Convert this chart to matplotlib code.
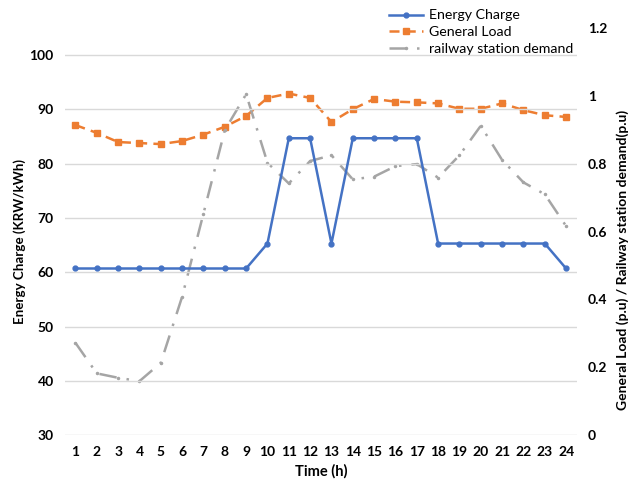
import matplotlib
matplotlib.use("Agg")
import matplotlib.pyplot as plt

hours = list(range(1, 25))
energy_charge = [60.7, 60.7, 60.7, 60.7, 60.7, 60.7, 60.7, 60.7, 60.7, 65.3,
                 84.7, 84.7, 65.3, 84.7, 84.7, 84.7, 84.7, 65.3, 65.3, 65.3,
                 65.3, 65.3, 65.3, 60.7]
general_load = [0.914, 0.891, 0.864, 0.861, 0.858, 0.867, 0.886, 0.909, 0.941, 0.994,
                1.007, 0.994, 0.923, 0.961, 0.991, 0.983, 0.981, 0.978, 0.962, 0.962,
                0.978, 0.958, 0.943, 0.938]
railway_demand = [0.272, 0.182, 0.169, 0.159, 0.213, 0.408, 0.653, 0.899, 1.005, 0.803,
                  0.742, 0.808, 0.825, 0.754, 0.762, 0.793, 0.799, 0.759, 0.825, 0.912,
                  0.811, 0.745, 0.710, 0.616]
left_ticks = [30, 40, 50, 60, 70, 80, 90, 100]
right_ticks = [0, 0.2, 0.4, 0.6, 0.8, 1.0, 1.2]
right_tick_labels = ["0", "0.2", "0.4", "0.6", "0.8", "1", "1.2"]

plt.rcParams['font.family'] = ['Lato', 'DejaVu Sans']

blue = "#4472C4"
orange = "#ED7D31"
gray = "#A5A5A5"

fig = plt.figure(figsize=(6.29, 4.84), dpi=100)
ax = fig.add_axes([0.103, 0.101, 0.814, 0.841])
ax2 = ax.twinx()

ax.set_zorder(ax2.get_zorder() + 1)
ax.patch.set_visible(False)

l1, = ax.plot(hours, energy_charge, color=blue, lw=1.8, marker='o', ms=3.5, label="Energy Charge")
l2, = ax2.plot(hours, general_load, color=orange, lw=1.8, ls=(0, (4, 2.5)), marker='s', ms=4, label="General Load")
l3, = ax2.plot(hours, railway_demand, color=gray, lw=1.8, ls=(0, (7, 4, 1, 4)), marker='.', ms=3, label="railway station demand")

ax.set_xlim(0.5, 24.5)
ax.set_ylim(30, 105)
ax.set_yticks(left_ticks)
ax2.set_ylim(0, 1.2)
ax2.set_yticks(right_ticks)
ax2.set_yticklabels(right_tick_labels)
ax.set_xticks(hours)

ax.grid(axis='y', color='#D9D9D9', lw=1)
ax.set_axisbelow(True)
for a in (ax, ax2):
    for s in a.spines.values():
        s.set_visible(False)
    a.tick_params(length=0, labelsize=10)
    for lab in a.get_xticklabels() + a.get_yticklabels():
        lab.set_fontweight('bold')
ax.tick_params(axis='x', pad=8)
ax.tick_params(axis='y', pad=8)
ax2.tick_params(axis='y', pad=8)

ax.set_xlabel("Time (h)", fontsize=10.5, fontweight='bold', labelpad=4)
ax.set_ylabel("Energy Charge (KRW/kWh)", fontsize=9.6, fontweight='bold')
ax.yaxis.set_label_coords(-0.075, 0.475)
ax2.set_ylabel("General Load (p.u) / Railway station demand(p.u)", fontsize=10, fontweight='bold')
ax2.yaxis.set_label_coords(1.078, 0.43)

leg = fig.legend(handles=[l1, l2, l3], loc='upper left', bbox_to_anchor=(0.605, 0.998),
                 frameon=False, fontsize=10.2, handlelength=2.4, handletextpad=0.45,
                 labelspacing=0.33, borderaxespad=0.2)

fig.savefig("out.png", dpi=100)
